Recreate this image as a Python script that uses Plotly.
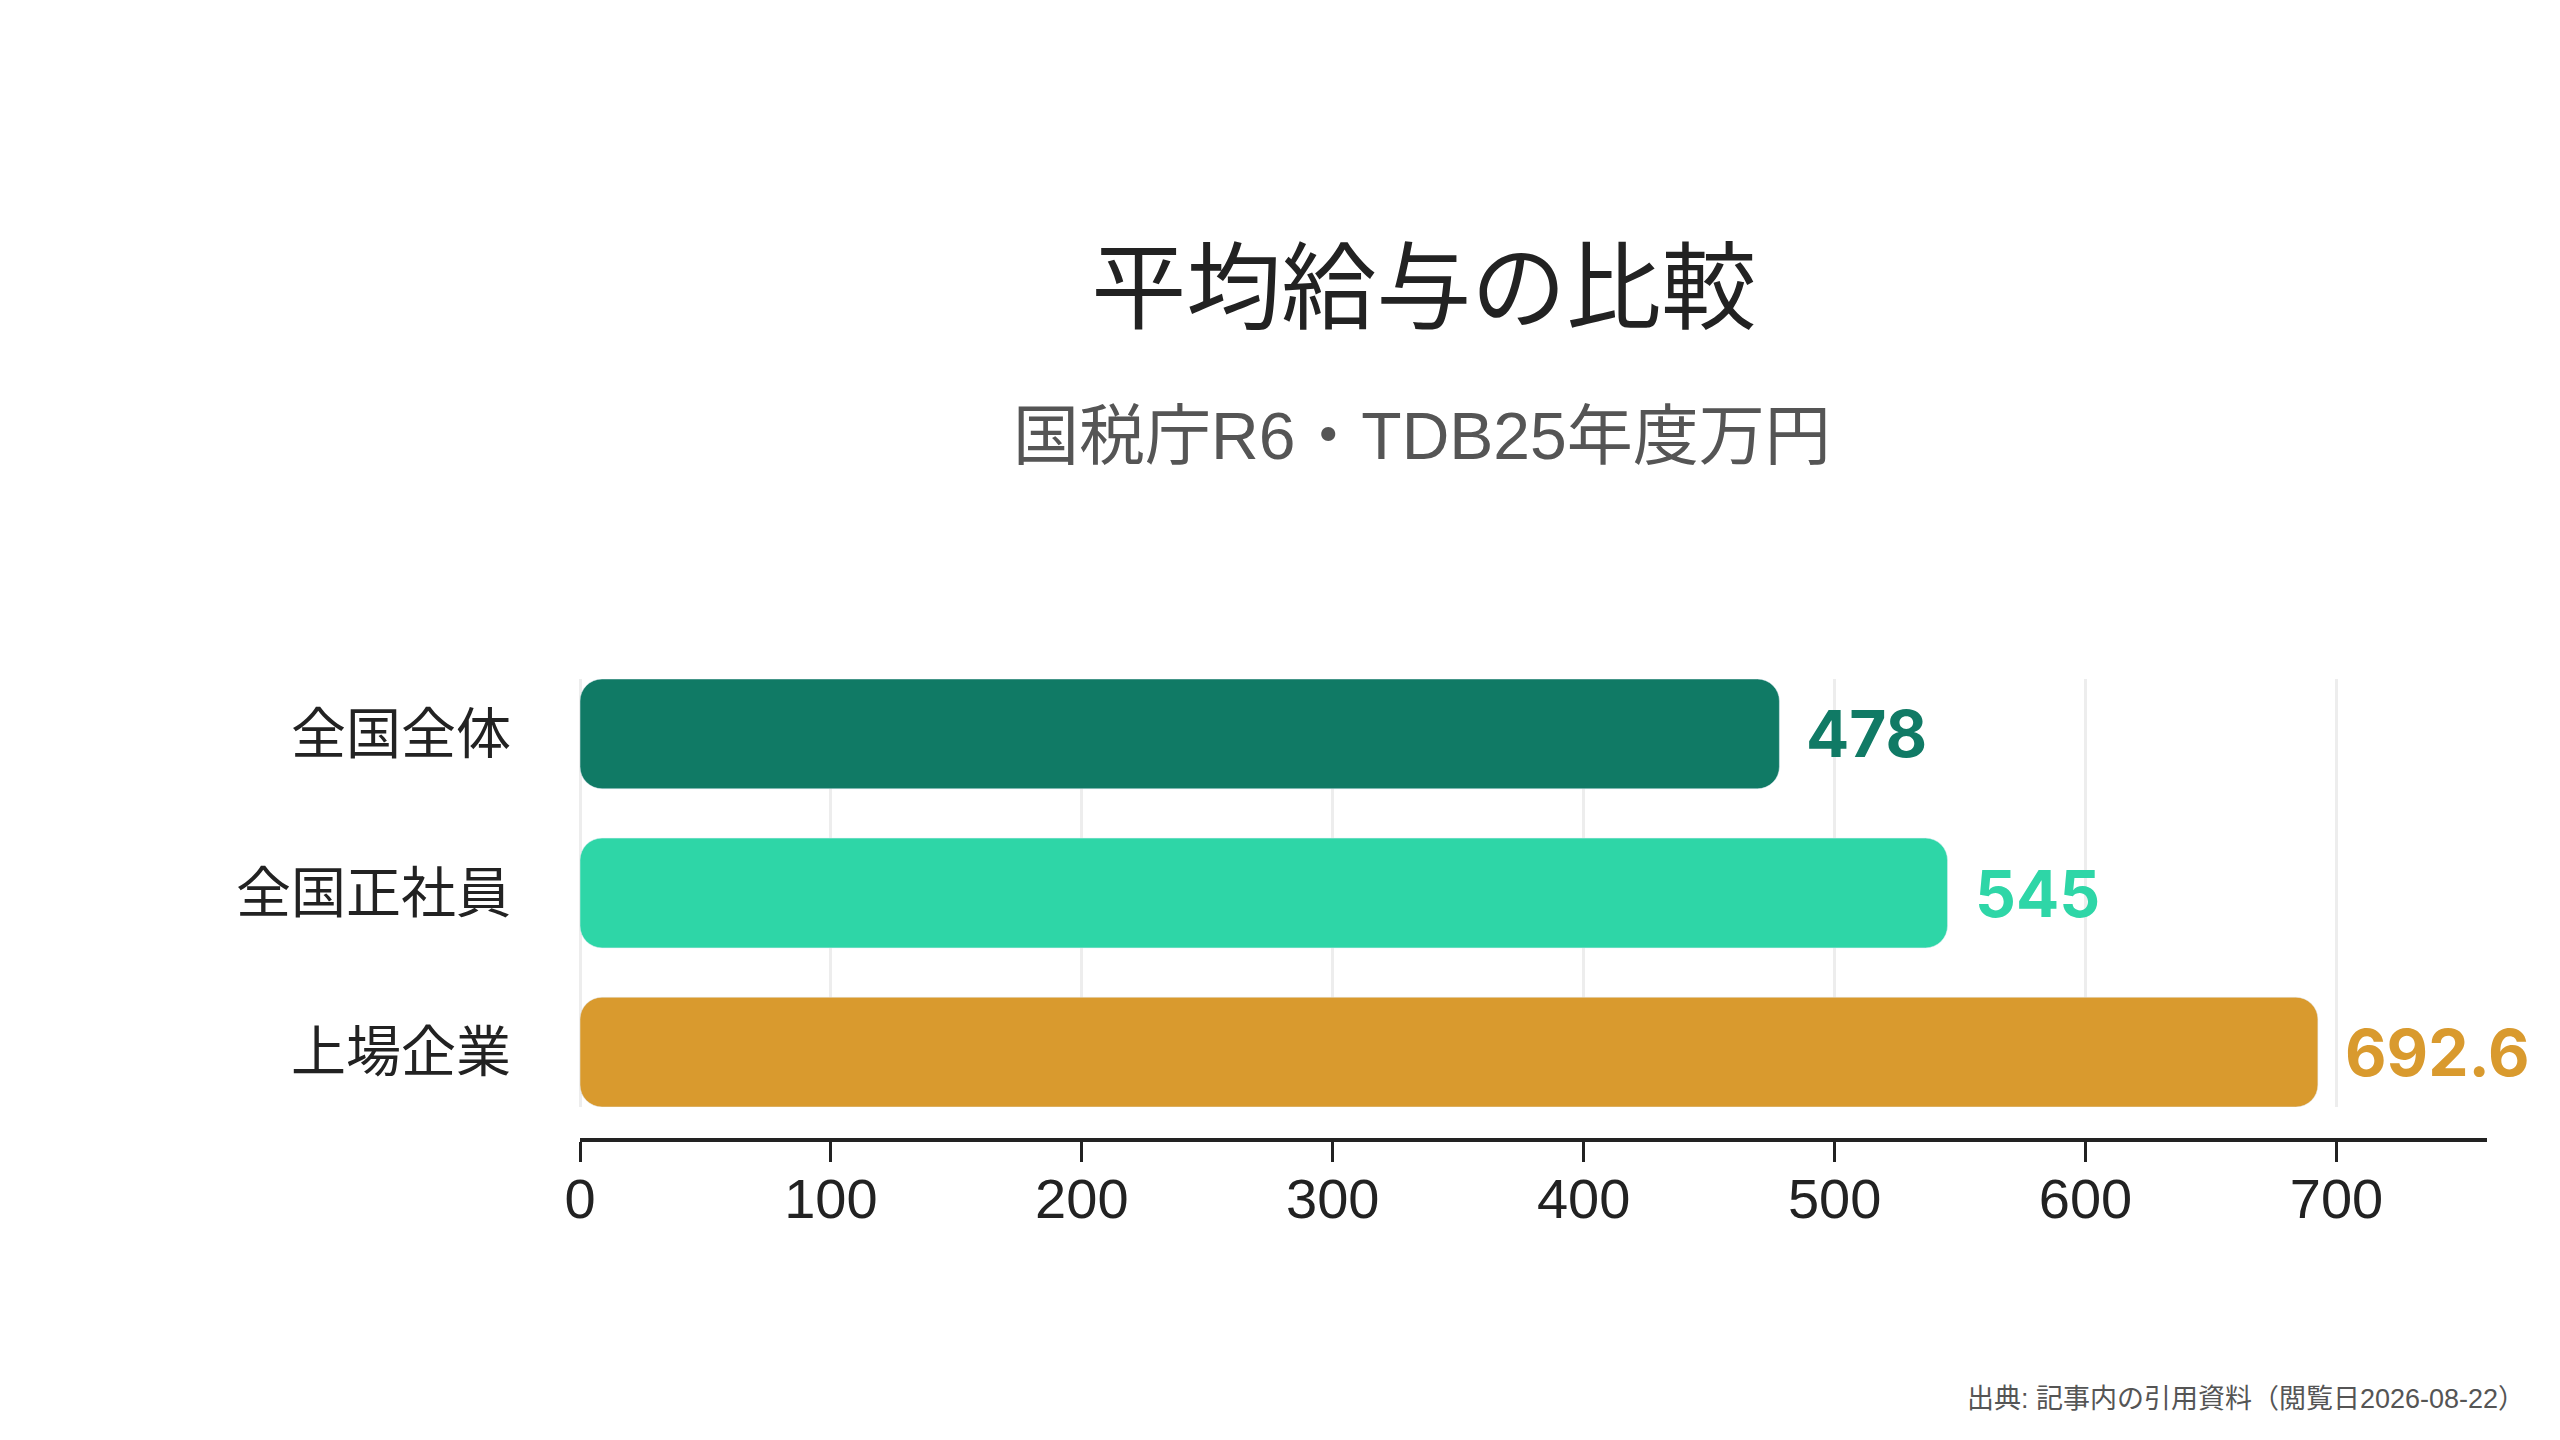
import plotly.graph_objects as go

# Data (万円)
categories = ["全国全体", "全国正社員", "上場企業"]
salaries = [478, 545, 692.6]
value_labels = ["478", "545", "692.6"]
bar_colors = ["#107A65", "#2ED6A7", "#D99A2E"]
x_ticks = [0, 100, 200, 300, 400, 500, 600, 700]

title_text = "平均給与の比較"
subtitle_text = "国税庁R6・TDB25年度万円"
source_text = "出典: 記事内の引用資料（閲覧日2026-08-22）"

CJK = "Noto Sans CJK JP"
LATIN = "Liberation Sans, Noto Sans CJK JP"

fig = go.Figure()

# explicit base so plotly rounds both ends of the bar
fig.add_trace(go.Bar(
    y=categories,
    x=salaries,
    base=[0] * len(salaries),
    orientation="h",
    marker=dict(color=bar_colors, cornerradius=22),
    hovertemplate="%{y}: %{x}<extra></extra>",
    showlegend=False,
))

# value labels next to the bars
for cat, val, lab, col in zip(categories, salaries, value_labels, bar_colors):
    fig.add_annotation(
        x=val, y=cat, text=lab,
        xanchor="left", yanchor="middle", xshift=25, showarrow=False,
        font=dict(family="Inter, Liberation Sans", size=64, color=col, weight="bold"),
    )

# subtitle
fig.add_annotation(
    x=0.4415, y=1.527, xref="paper", yref="paper", text=subtitle_text,
    xanchor="center", yanchor="middle", showarrow=False,
    font=dict(family=LATIN, size=66, color="#555555"),
)

# source note
fig.add_annotation(
    x=1.0, y=-0.562, xref="paper", yref="paper", text=source_text,
    xanchor="right", yanchor="middle", xshift=40, showarrow=False,
    font=dict(family=LATIN, size=27, color="#555555"),
)

fig.update_layout(
    width=2560,
    height=1440,
    bargap=0.31,
    plot_bgcolor="white",
    paper_bgcolor="white",
    margin=dict(l=572, r=81, t=671, b=308),
    title=dict(
        text=title_text, x=0.553, xref="container", xanchor="center",
        y=0.805, yref="container", yanchor="middle",
        font=dict(family=CJK, size=95, color="#222222"),
    ),
    xaxis=dict(
        range=[0, 760],
        tickvals=x_ticks,
        showgrid=True, gridcolor="#EDEDED", gridwidth=3,
        zeroline=True, zerolinecolor="#EDEDED", zerolinewidth=3,
        showline=True, linecolor="#222222", linewidth=4,
        ticks="outside", ticklen=20, tickwidth=3, tickcolor="#222222",
        ticklabelstandoff=-11,
        tickfont=dict(family=LATIN, size=56, color="#222222"),
        anchor="free", position=0,
        fixedrange=True,
    ),
    yaxis=dict(
        domain=[33 / 461, 1],
        range=[2.345, -0.345],
        type="category",
        showgrid=False, showline=False, zeroline=False,
        ticks="", ticklabelstandoff=68,
        tickfont=dict(family=CJK, size=55, color="#222222"),
        fixedrange=True,
    ),
)

fig.write_html("out.html")
